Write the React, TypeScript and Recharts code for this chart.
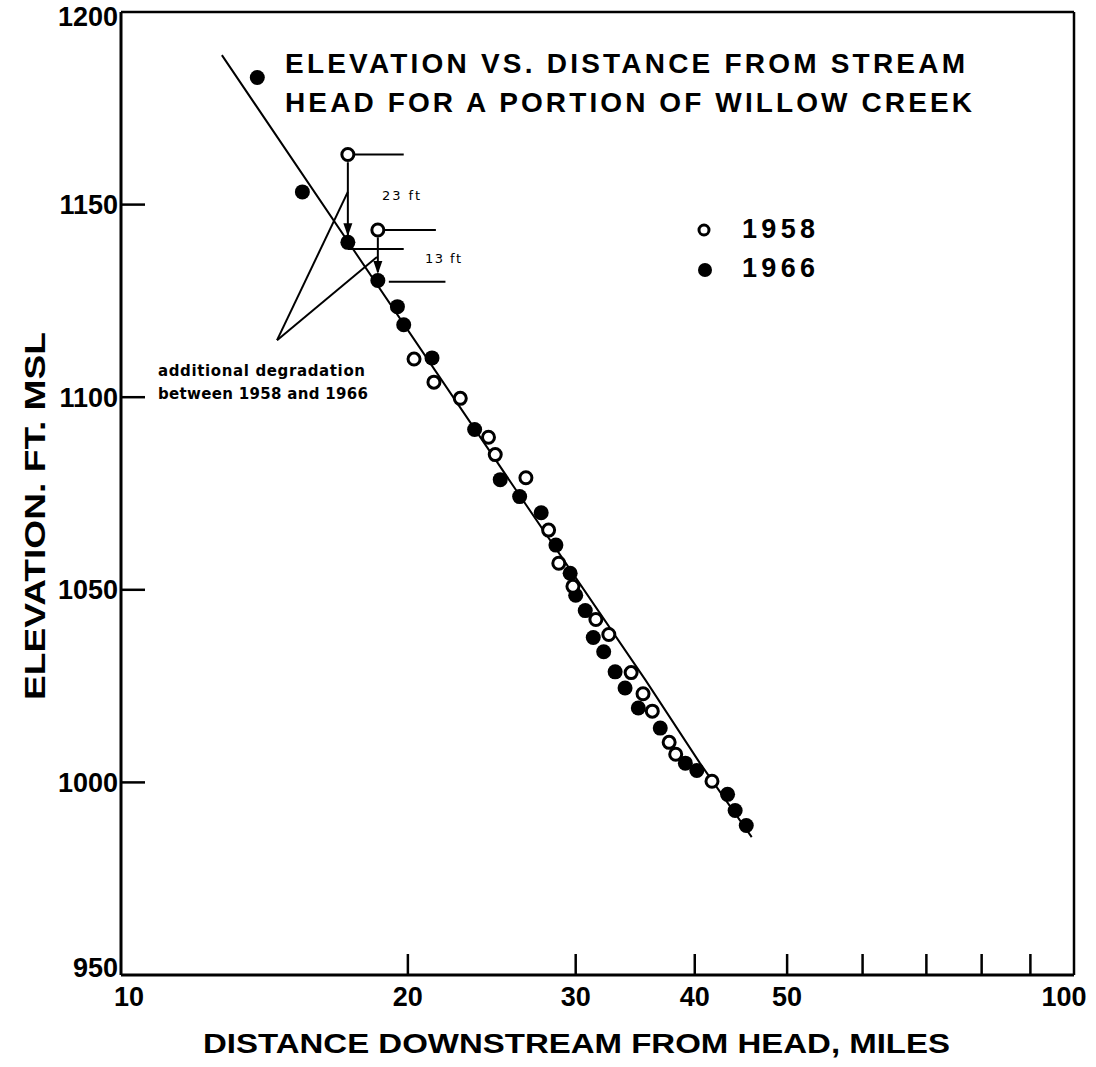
import React from 'react';
import { ScatterChart, Scatter, XAxis, YAxis, ReferenceLine } from 'recharts';

// axis ticks
const xTicks = [10, 20, 30, 40, 50, 60, 70, 80, 90, 100];
const xLabelled = [10, 20, 30, 40, 50, 100];
const yTicks = [950, 1000, 1050, 1100, 1150, 1200];

// 1958 survey (open circles)
const points1958 = [
  { x: 17.3, y: 1163 }, { x: 18.6, y: 1143.4 }, { x: 20.3, y: 1109.9 }, { x: 21.3, y: 1103.9 },
  { x: 22.7, y: 1099.7 }, { x: 24.3, y: 1089.6 }, { x: 24.7, y: 1085.1 }, { x: 26.6, y: 1079.1 },
  { x: 28.1, y: 1065.5 }, { x: 28.8, y: 1056.9 }, { x: 29.8, y: 1050.9 }, { x: 31.5, y: 1042.3 },
  { x: 32.5, y: 1038.4 }, { x: 34.3, y: 1028.5 }, { x: 35.3, y: 1023.0 }, { x: 36.1, y: 1018.5 },
  { x: 37.6, y: 1010.4 }, { x: 38.2, y: 1007.3 }, { x: 41.7, y: 1000.3 },
];

// 1966 survey (filled circles)
const points1966 = [
  { x: 13.9, y: 1183 }, { x: 15.5, y: 1153.3 }, { x: 17.3, y: 1140.2 }, { x: 18.6, y: 1130.3 },
  { x: 19.5, y: 1123.5 }, { x: 19.8, y: 1118.8 }, { x: 21.2, y: 1110.2 }, { x: 23.5, y: 1091.6 },
  { x: 25.0, y: 1078.6 }, { x: 26.2, y: 1074.2 }, { x: 27.6, y: 1070.0 }, { x: 28.6, y: 1061.6 },
  { x: 29.6, y: 1054.3 }, { x: 30.0, y: 1048.6 }, { x: 30.7, y: 1044.6 }, { x: 31.3, y: 1037.6 },
  { x: 32.1, y: 1033.9 }, { x: 33.0, y: 1028.7 }, { x: 33.8, y: 1024.5 }, { x: 34.9, y: 1019.3 },
  { x: 36.8, y: 1014.1 }, { x: 39.1, y: 1005.0 }, { x: 40.2, y: 1003.1 }, { x: 43.3, y: 996.9 },
  { x: 44.1, y: 992.7 }, { x: 45.3, y: 988.8 },
];

// hand-drawn trend line
const fitLine = [
  { x: 12.76, y: 1188.8 }, { x: 26.4, y: 1073.3 }, { x: 35.5, y: 1026.6 },
  { x: 40.5, y: 1005.0 }, { x: 45.9, y: 985.8 },
];

// annotation strokes (data coords)
const markSegments = [
  [{ x: 17.3, y: 1163 }, { x: 19.8, y: 1163 }],
  [{ x: 17.3, y: 1161 }, { x: 17.3, y: 1142 }],
  [{ x: 17.3, y: 1138.5 }, { x: 19.8, y: 1138.5 }],
  [{ x: 18.6, y: 1143.4 }, { x: 21.4, y: 1143.4 }],
  [{ x: 18.6, y: 1141.5 }, { x: 18.6, y: 1132.5 }],
  [{ x: 19.1, y: 1130.0 }, { x: 21.9, y: 1130.0 }],
  [{ x: 14.58, y: 1114.8 }, { x: 17.3, y: 1153.3 }],
  [{ x: 14.58, y: 1114.8 }, { x: 18.56, y: 1136.4 }],
];
const arrowTips = [{ x: 17.3, y: 1141.8 }, { x: 18.6, y: 1132.0 }];

const sans = 'Liberation Sans, Arial, sans-serif';

const OpenDot = (p: any) => (
  <circle cx={p.cx} cy={p.cy} r={6} fill="#fff" stroke="#000" strokeWidth={3} />
);
const FilledDot = (p: any) => <circle cx={p.cx} cy={p.cy} r={7.5} fill="#000" />;
const NoDot = () => <g />;
const ArrowHead = (p: any) => (
  <path d={`M${p.cx},${p.cy} L${p.cx - 4.5},${p.cy - 13} L${p.cx + 4.5},${p.cy - 13} Z`} fill="#000" />
);

const YTick = (p: any) => {
  const v = p.payload.value;
  // nudge the end labels like the original print
  const shift = v === 1200 ? 4 : v === 950 ? -8 : 0;
  return (
    <g>
      {v > 950 && v < 1200 && (
        <line x1={p.x} x2={p.x + 24} y1={p.y} y2={p.y} stroke="#000" strokeWidth={2.5} />
      )}
      <text x={p.x - 3} y={p.y + shift} dy={9.5} textAnchor="end" fontSize={27} fontWeight={700} fontFamily={sans} fill="#000">
        {v}
      </text>
    </g>
  );
};

const XTick = (p: any) => {
  const v = p.payload.value;
  const shift = v === 10 ? 8 : v === 100 ? -10 : 0;
  return (
    <g>
      {v > 10 && v < 100 && (
        <line x1={p.x} x2={p.x} y1={p.y} y2={p.y - 21} stroke="#000" strokeWidth={2.5} />
      )}
      {xLabelled.includes(v) && (
        <text x={p.x + shift} y={p.y + 31} textAnchor="middle" fontSize={27} fontWeight={700} fontFamily={sans} fill="#000">
          {v}
        </text>
      )}
    </g>
  );
};

export default function App() {
  return (
    <div style={{ position: 'absolute', left: 0, top: 0, width: 1096, height: 1067, background: '#fff' }}>
      <ScatterChart width={1096} height={1067} margin={{ top: 12, right: 22, bottom: 0, left: 0 }}>
        <XAxis
          type="number"
          dataKey="x"
          scale="log"
          domain={[10, 100]}
          ticks={xTicks}
          interval={0}
          allowDataOverflow
          height={92}
          tickSize={0}
          tickMargin={0}
          tickLine={false}
          axisLine={{ stroke: '#000', strokeWidth: 3 }}
          tick={<XTick />}
        />
        <YAxis
          type="number"
          dataKey="y"
          domain={[950, 1200]}
          ticks={yTicks}
          interval={0}
          allowDataOverflow
          width={121}
          tickSize={0}
          tickMargin={0}
          tickLine={false}
          axisLine={{ stroke: '#000', strokeWidth: 3 }}
          tick={<YTick />}
        />
        <ReferenceLine y={1200} stroke="#000" strokeWidth={2.5} />
        <ReferenceLine x={100} stroke="#000" strokeWidth={2.5} />
        {markSegments.map((s, i) => (
          <ReferenceLine key={i} segment={s} stroke="#000" strokeWidth={2} />
        ))}
        <Scatter data={fitLine} line={{ stroke: '#000', strokeWidth: 2 }} shape={<NoDot />} isAnimationActive={false} />
        <Scatter data={arrowTips} shape={<ArrowHead />} isAnimationActive={false} />
        <Scatter data={points1966} shape={<FilledDot />} isAnimationActive={false} />
        <Scatter data={points1958} shape={<OpenDot />} isAnimationActive={false} />
      </ScatterChart>
      <svg
        width={1096}
        height={1067}
        style={{ position: 'absolute', left: 0, top: 0, pointerEvents: 'none' }}
        fontFamily={sans}
      >
        <text x={285} y={73} fontSize={28} fontWeight={700} textLength={680} lengthAdjust="spacing">
          ELEVATION VS. DISTANCE FROM STREAM
        </text>
        <text x={285} y={112} fontSize={28} fontWeight={700} textLength={687} lengthAdjust="spacing">
          HEAD FOR A PORTION OF WILLOW CREEK
        </text>

        <circle cx={704} cy={230} r={5} fill="#fff" stroke="#000" strokeWidth={3} />
        <text x={742} y={238} fontSize={27} fontWeight={700} textLength={73} lengthAdjust="spacing">1958</text>
        <circle cx={705} cy={270} r={7} fill="#000" />
        <text x={742} y={277} fontSize={27} fontWeight={700} textLength={73} lengthAdjust="spacing">1966</text>

        <text x={382} y={200} fontSize={13} fontFamily="DejaVu Sans, sans-serif" textLength={38} lengthAdjust="spacing">23 ft</text>
        <text x={425} y={263} fontSize={13} fontFamily="DejaVu Sans, sans-serif" textLength={36} lengthAdjust="spacing">13 ft</text>
        <text x={158} y={376} fontSize={15} fontWeight={700} fontFamily="DejaVu Sans, sans-serif" textLength={207} lengthAdjust="spacing">
          additional degradation
        </text>
        <text x={158} y={399} fontSize={15} fontWeight={700} fontFamily="DejaVu Sans, sans-serif" textLength={210} lengthAdjust="spacing">
          between 1958 and 1966
        </text>

        <text
          transform="translate(45,516) rotate(-90)"
          textAnchor="middle"
          fontSize={30}
          fontWeight={700}
          textLength={368}
          lengthAdjust="spacingAndGlyphs"
        >
          ELEVATION. FT. MSL
        </text>
        <text x={203} y={1053} fontSize={27} fontWeight={700} textLength={747} lengthAdjust="spacingAndGlyphs">
          DISTANCE DOWNSTREAM FROM HEAD, MILES
        </text>
      </svg>
    </div>
  );
}
